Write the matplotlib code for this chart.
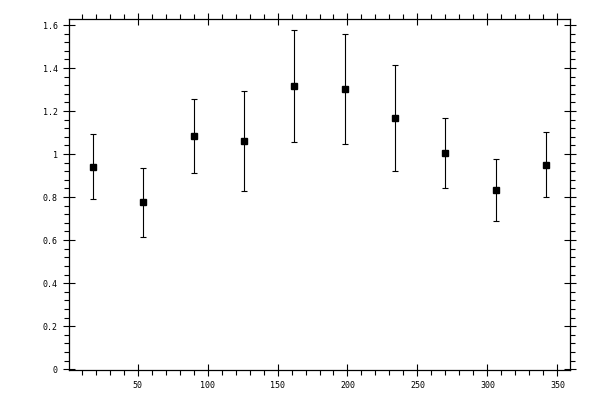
import matplotlib
matplotlib.use("Agg")
import matplotlib.pyplot as plt
from matplotlib.ticker import MultipleLocator, FormatStrFormatter

# bin centres (degrees) and measured ratio with errors
angle = [18, 54, 90, 126, 162, 198, 234, 270, 306, 342]
ratio = [0.938, 0.775, 1.082, 1.059, 1.315, 1.301, 1.166, 1.003, 0.831, 0.947]
err_low = [0.147, 0.161, 0.172, 0.233, 0.261, 0.256, 0.247, 0.163, 0.144, 0.148]
err_high = [0.155, 0.158, 0.172, 0.233, 0.260, 0.256, 0.246, 0.163, 0.146, 0.154]

fig = plt.figure(figsize=(6, 4), dpi=100)
ax = fig.add_axes([0.115, 0.075, 0.835, 0.8775])

ax.errorbar(angle, ratio, yerr=[err_low, err_high], fmt='s', color='black',
            markersize=5, elinewidth=0.8, capsize=2, capthick=0.8)

ax.set_xlim(1, 359)
ax.set_ylim(-0.004, 1.628)

ax.xaxis.set_major_locator(MultipleLocator(50))
ax.xaxis.set_minor_locator(MultipleLocator(10))
ax.yaxis.set_major_locator(MultipleLocator(0.2))
ax.yaxis.set_minor_locator(MultipleLocator(0.04))
ax.yaxis.set_major_formatter(FormatStrFormatter('%g'))

for s in ax.spines.values():
    s.set_linewidth(0.9)

ax.tick_params(which='major', direction='inout', length=8, width=0.8,
               top=True, right=True, labelsize=6, pad=4)
ax.tick_params(which='minor', direction='out', length=3.5, width=0.8,
               top=True, right=True)
for lab in ax.get_xticklabels() + ax.get_yticklabels():
    lab.set_family('DejaVu Sans Mono')

# x tick 0 is not labelled in the original
ax.set_xticks([50, 100, 150, 200, 250, 300, 350])

fig.savefig('out.png', dpi=100)
